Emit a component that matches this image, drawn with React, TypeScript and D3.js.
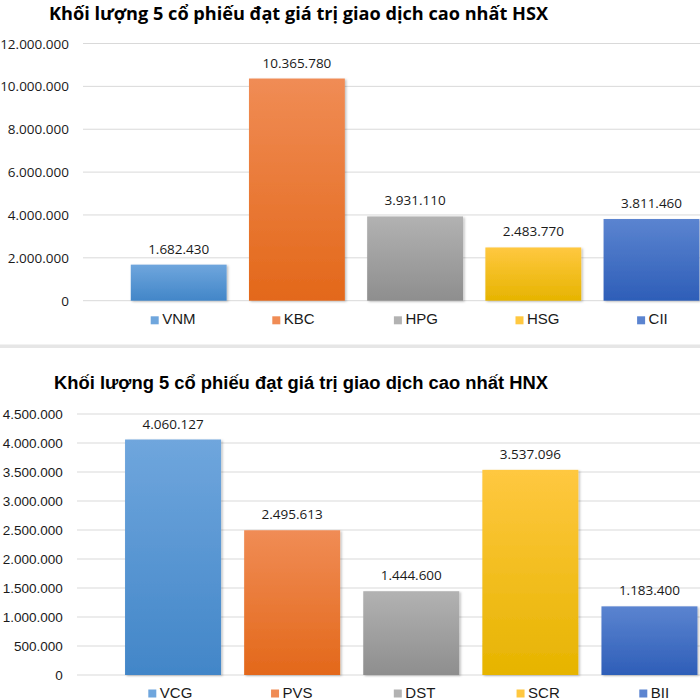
import React from "react";
import * as d3 from "d3";

// ---- Data ----
const hsxTitle = "Khối lượng 5 cổ phiếu đạt giá trị giao dịch cao nhất HSX";
const hsxTickers = ["VNM", "KBC", "HPG", "HSG", "CII"];
const hsxVolumes = [1682430, 10365780, 3931110, 2483770, 3811460];
const hsxTicks = [0, 2000000, 4000000, 6000000, 8000000, 10000000, 12000000];

const hnxTitle = "Khối lượng 5 cổ phiếu đạt giá trị giao dịch cao nhất HNX";
const hnxTickers = ["VCG", "PVS", "DST", "SCR", "BII"];
const hnxVolumes = [4060127, 2495613, 1444600, 3537096, 1183400];
const hnxTicks = [0, 500000, 1000000, 1500000, 2000000, 2500000, 3000000, 3500000, 4000000, 4500000];

// gradient colors (top, bottom) per series position
const barColors: [string, string][] = [
  ["#6fa6dd", "#4286c8"],
  ["#f08c55", "#e3681a"],
  ["#b2b2b2", "#8e8e8e"],
  ["#ffc840", "#e6b400"],
  ["#5b84d0", "#2e5eb8"],
];

const locale = d3.formatLocale({ decimal: ",", thousands: ".", grouping: [3], currency: ["", ""] });
const fmt = locale.format(",d");

type PanelProps = {
  id: string;
  title: string;
  titleX: number;
  titleY: number;
  titleFont: string;
  titleSize: number;
  titleWidth: number;
  tickers: string[];
  values: number[];
  ticks: number[];
  xRange: [number, number];
  pad: number;
  yRange: [number, number];
  gridX0: number;
  labelX: number;
  axisFont: string;
  axisSize: number;
  legendX0: number;
  legendStep: number;
  legendY: number;
};

function Panel(p: PanelProps) {
  const x = d3
    .scaleBand<string>()
    .domain(p.tickers)
    .range(p.xRange)
    .paddingInner(p.pad)
    .paddingOuter(p.pad / 2);
  const y = d3.scaleLinear().domain([0, p.ticks[p.ticks.length - 1]]).range(p.yRange);
  const legendX = d3
    .scalePoint<string>()
    .domain(p.tickers)
    .range([p.legendX0, p.legendX0 + p.legendStep * (p.tickers.length - 1)]);

  return (
    <g>
      <text
        x={p.titleX}
        y={p.titleY}
        fontFamily={p.titleFont}
        fontWeight="bold"
        fontSize={p.titleSize}
        textLength={p.titleWidth}
        lengthAdjust="spacingAndGlyphs"
        fill="#000"
      >
        {p.title}
      </text>
      {p.ticks.map((t) => (
        <g key={t}>
          <line x1={p.gridX0} x2={700} y1={y(t)} y2={y(t)} stroke="#d9d9d9" strokeWidth={1} />
          <text
            x={p.labelX}
            y={y(t) + 5}
            textAnchor="end"
            fontFamily={p.axisFont}
            fontSize={p.axisSize}
            fill="#1a1a1a"
          >
            {fmt(t)}
          </text>
        </g>
      ))}
      {p.tickers.map((k, i) => (
        <g key={k}>
          <rect
            x={x(k)}
            y={y(p.values[i])}
            width={x.bandwidth()}
            height={y(0) - y(p.values[i])}
            fill={`url(#${p.id}-g${i})`}
            filter="url(#shadow)"
          />
          <text
            x={(x(k) as number) + x.bandwidth() / 2}
            y={y(p.values[i]) - 11}
            textAnchor="middle"
            fontFamily="'Open Sans', sans-serif"
            fontSize={13.5}
            fill="#1a1a1a"
          >
            {fmt(p.values[i])}
          </text>
        </g>
      ))}
      {p.tickers.map((k, i) => (
        <g key={"l" + k}>
          <rect x={legendX(k)} y={p.legendY - 8} width={8} height={8} fill={barColors[i][0]} />
          <text
            x={(legendX(k) as number) + 11.5}
            y={p.legendY}
            fontFamily="'Liberation Sans', Arial, sans-serif"
            fontSize={15}
            fill="#1a1a1a"
          >
            {k}
          </text>
        </g>
      ))}
    </g>
  );
}

export default function App() {
  const defs = (id: string) =>
    barColors.map((c, i) => (
      <linearGradient key={id + i} id={`${id}-g${i}`} x1="0" y1="0" x2="0" y2="1">
        <stop offset="0%" stopColor={c[0]} />
        <stop offset="100%" stopColor={c[1]} />
      </linearGradient>
    ));
  return (
    <svg
      width={700}
      height={700}
      viewBox="0 0 700 700"
      style={{ position: "absolute", left: 0, top: 0, background: "#fff" }}
    >
      <defs>
        {defs("hsx")}
        {defs("hnx")}
        <filter id="shadow" x="-10%" y="-10%" width="130%" height="130%">
          <feDropShadow dx="1.5" dy="1" stdDeviation="1.2" floodColor="#000" floodOpacity="0.25" />
        </filter>
      </defs>
      <rect x={0} y={0} width={700} height={700} fill="#fff" />
      <Panel
        id="hsx"
        title={hsxTitle}
        titleX={49}
        titleY={19.5}
        titleFont="'Open Sans', sans-serif"
        titleSize={17}
        titleWidth={499}
        tickers={hsxTickers}
        values={hsxVolumes}
        ticks={hsxTicks}
        xRange={[119.6, 710.6]}
        pad={0.189}
        yRange={[300.7, 43.5]}
        gridX0={83}
        labelX={69}
        axisFont="'Open Sans', sans-serif"
        axisSize={13.5}
        legendX0={150.7}
        legendStep={121.6}
        legendY={324.3}
      />
      <rect x={0} y={344.5} width={700} height={3.5} fill="#e6e6e6" />
      <Panel
        id="hnx"
        title={hnxTitle}
        titleX={54}
        titleY={389.3}
        titleFont="'Liberation Sans', Arial, sans-serif"
        titleSize={17.5}
        titleWidth={494}
        tickers={hnxTickers}
        values={hnxVolumes}
        ticks={hnxTicks}
        xRange={[113.5, 709]}
        pad={0.194}
        yRange={[675, 414]}
        gridX0={77}
        labelX={62.7}
        axisFont="'Liberation Sans', Arial, sans-serif"
        axisSize={13.5}
        legendX0={148.3}
        legendStep={122.75}
        legendY={697.5}
      />
    </svg>
  );
}
